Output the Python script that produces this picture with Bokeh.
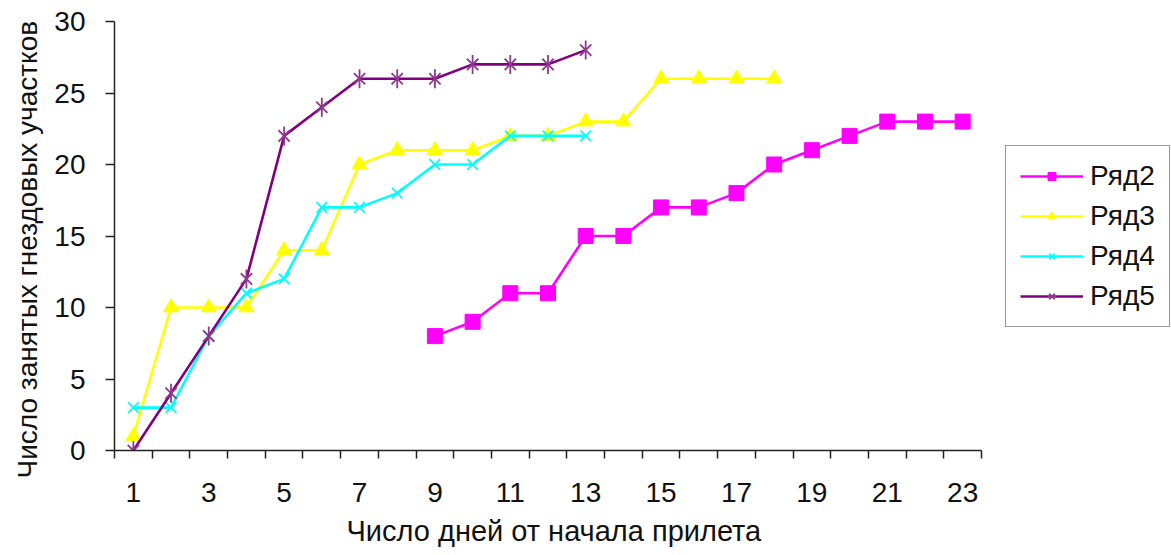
from bokeh.plotting import figure
from bokeh.models import (Range1d, FixedTicker, Legend, LegendItem, Title)
from bokeh.embed import file_html
from bokeh.resources import INLINE
import math

# Days since the start of arrival and occupied nesting territories per series
days = list(range(1, 24))
series_names = ["Ряд2", "Ряд3", "Ряд4", "Ряд5"]

ryad2_days = list(range(9, 24))
ryad2_vals = [8, 9, 11, 11, 15, 15, 17, 17, 18, 20, 21, 22, 23, 23, 23]

ryad3_days = list(range(1, 19))
ryad3_vals = [1, 10, 10, 10, 14, 14, 20, 21, 21, 21, 22, 22, 23, 23, 26, 26, 26, 26]

ryad4_days = list(range(1, 14))
ryad4_vals = [3, 3, 8, 11, 12, 17, 17, 18, 20, 20, 22, 22, 22]

ryad5_days = list(range(1, 14))
ryad5_vals = [0, 4, 8, 12, 22, 24, 26, 26, 26, 27, 27, 27, 28]

x_tick_labels = [1, 3, 5, 7, 9, 11, 13, 15, 17, 19, 21, 23]
y_ticks = [0, 5, 10, 15, 20, 25, 30]

x_title = "Число дней от начала прилета"
y_title = "Число занятых гнездовых участков"

FONT = "Liberation Sans"
INK = "#111111"
AXIS = "#222222"

# The data area covers days 0.5..23.5 (867 px); the frame runs on to the
# right edge so the legend has room beside the axis.
PX_PER_DAY = 867 / 23
FRAME_W = 1171 - 114
x_end = 0.5 + FRAME_W / PX_PER_DAY

p = figure(width=1171, height=555, output_backend="svg", toolbar_location=None,
           x_range=Range1d(0.5, x_end), y_range=Range1d(0, 30),
           min_border_left=114, min_border_right=0,
           min_border_top=21, min_border_bottom=105)
p.outline_line_color = None
p.grid.grid_line_color = None
p.background_fill_color = "white"
p.border_fill_color = "white"

# x axis: labels on every second day, tick marks between day categories
xa = p.xaxis[0]
xa.bounds = (0.5, 23.5)
xa.ticker = FixedTicker(ticks=x_tick_labels,
                        minor_ticks=[d + 0.5 for d in range(0, 24)])
xa.major_tick_line_color = None
xa.major_tick_out = 8
xa.major_tick_in = 0
xa.minor_tick_out = 8
xa.minor_tick_in = 0
xa.minor_tick_line_color = AXIS
xa.minor_tick_line_width = 1.5
xa.axis_line_color = AXIS
xa.axis_line_width = 1.5
xa.major_label_text_font = FONT
xa.major_label_text_font_size = "28px"
xa.major_label_text_color = INK
xa.major_label_standoff = 24

ya = p.yaxis[0]
ya.ticker = FixedTicker(ticks=y_ticks, minor_ticks=[])
ya.major_tick_out = 9
ya.major_tick_in = 0
ya.major_tick_line_color = AXIS
ya.major_tick_line_width = 1.5
ya.axis_line_color = AXIS
ya.axis_line_width = 1.5
ya.major_label_text_font = FONT
ya.major_label_text_font_size = "28px"
ya.major_label_text_color = INK
ya.major_label_standoff = 20

# axis titles
p.add_layout(Title(text=x_title, align="left", offset=232,
                   text_font=FONT, text_font_size="29px",
                   text_font_style="normal", text_color=INK,
                   standoff=16), "below")
p.add_layout(Title(text=y_title, align="left", offset=-28,
                   text_font=FONT, text_font_size="28px",
                   text_font_style="normal", text_color=INK,
                   standoff=17), "left")

LW = 2.6

# Ряд2: magenta squares
l2 = p.line(ryad2_days, ryad2_vals, line_color="#FF00FF", line_width=LW)
m2 = p.scatter(ryad2_days, ryad2_vals, marker="square", size=15,
               fill_color="#FF00FF", line_color="#FF00FF")

# Ряд3: yellow triangles
l3 = p.line(ryad3_days, ryad3_vals, line_color="#FFFF00", line_width=LW)
m3 = p.scatter(ryad3_days, ryad3_vals, marker="triangle", size=15,
               fill_color="#FFFF00", line_color="#FFFF00")

# Ряд4: cyan crosses
l4 = p.line(ryad4_days, ryad4_vals, line_color="#00FFFF", line_width=LW)
m4 = p.scatter(ryad4_days, ryad4_vals, marker="x", size=15,
               line_color="#00FFFF", line_width=1.8)

# Ряд5: purple stars (an x with a vertical stroke)
l5 = p.line(ryad5_days, ryad5_vals, line_color="#800080", line_width=LW)
m5a = p.scatter(ryad5_days, ryad5_vals, marker="x", size=16,
                line_color="#8E3A8E", line_width=1.8)
m5b = p.scatter(ryad5_days, ryad5_vals, marker="dash", size=19, angle=math.pi / 2,
                line_color="#8E3A8E", line_width=1.8)

legend = Legend(items=[
    LegendItem(label=series_names[0], renderers=[l2, m2]),
    LegendItem(label=series_names[1], renderers=[l3, m3]),
    LegendItem(label=series_names[2], renderers=[l4, m4]),
    LegendItem(label=series_names[3], renderers=[l5, m5a, m5b]),
])
legend.location = (891, 123)
legend.label_text_font = FONT
legend.label_text_font_size = "28px"
legend.label_text_color = INK
legend.glyph_width = 63
legend.glyph_height = 20
legend.label_standoff = 7
legend.spacing = 8
legend.padding = 14
legend.margin = 0
legend.border_line_color = "#333333"
legend.border_line_width = 1.5
legend.background_fill_color = "white"
legend.background_fill_alpha = 1.0
p.add_layout(legend)

open("out.html", "w").write(file_html(p, INLINE))
